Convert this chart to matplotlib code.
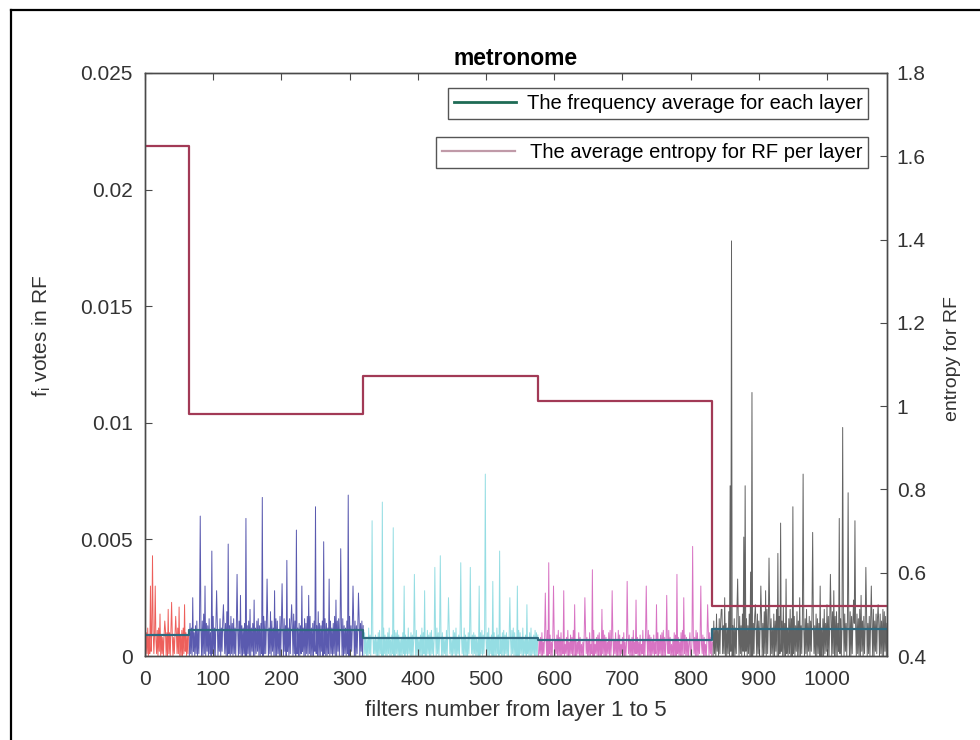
import numpy as np
import matplotlib
matplotlib.use('Agg')
import matplotlib.pyplot as plt
from matplotlib.lines import Line2D

plt.rcParams['font.family'] = ['Liberation Sans', 'DejaVu Sans']

# layer edges (filter number) and the per-layer averages
layer_edges = [0, 64, 320, 576, 832, 1088]
layer_colors = ['#e82a24', '#14148e', '#3ec2cc', '#c42aa4', '#101010']
layer_alpha = [0.75, 0.7, 0.55, 0.65, 0.65]
freq_avg = [0.00090, 0.00112, 0.00078, 0.00068, 0.00116]
entropy_avg = [1.625, 0.982, 1.072, 1.012, 0.520]

# votes per filter, one base-36 char per filter, units of 1e-4
layer1_votes = ("0a1c09182b0a1907" "1b0c2a0918091b0a" "0c1a0b2908190a1c" "1a090b0c182a091b")
layer2_votes = ("0e1c0g2a0d1f0b1h" "1c0f0i1b0e2d0g1a" "0d1h0c0f1e0b2g0c" "2f0b1e0j0c1d0h1e"
                "0g1c0e2b0f1i0d0c" "1e0h0d1f0k0c2e0b" "0c1f2g0d0e1b0h1f" "1d0e0c1j0f2c0e0g"
                "0f1b0h0e1c0g2d0e" "2c0g1e0d0i1f0b1c" "0e0d1f2c0g0e1h0d" "1h0c0e0f2b1d0j0e"
                "0d2f0c1g0e0c1e0f" "1c0e1h0d0f2g0c1e" "0g0d1c0f1e0h0d2c" "1e0f0d1c0g0e2f0d")
layer3_votes = ("0a18070c190a0b17" "19070a0b18060c19" "080a1c0709180b0a" "1b0907080a1c0918"
                "0c180a0907190b08" "17090c0a18080b19" "0a0b1807090c1a08" "190a08170b090c18"
                "070b1a0c08190a09" "180c09070a1b0819" "0a1908070c0a1b09" "1b070a0c0819090a"
                "080c1907180a0b09" "1a0809070b1c0a08" "090b0a180c07190a" "170a0c08190b0a09")
layer4_votes = ("07180a0619080b05" "1906080a07190b08" "0a071905180b0609" "180b0907061a0805"
                "06090b18070a0519" "0b0518090a07061b" "0908061a0b051907" "1a070b0905180a06"
                "050a1907080b0619" "180609051b070a08" "0b0908071906180a" "07190a0b0806051b"
                "1805070a090b1806" "0a0b0619080705a1" "0609180b0a071905" "190805070b0a1806")
layer5_votes = ("0f1c0i2b0g1e0k1d" "1h0e0c1j0f2i0d0g" "0c1k0f0h1d0i2e0j" "2g0d1i0f0l0e1h0c"
                "0i1f0d2h0e0j1g0k" "1e0j0g1c0i0f2k0d" "0h1d2f0l0e0i1c0g" "1k0g0e1h0d2j0f0i"
                "0d1i0c0g1k0e2h0f" "2j0f1d0i0g1e0m0c" "0g0k1e2f0h0d1i0j" "1f0h0j0e2i1g0d0k"
                "0i2e0g1d0j0h1f0e" "1d0i1g0k0e2f0h1c" "0j0e1h0g1d0k0f2i" "1g0d0i1f0e0j2h0e")

# the tall single-filter peaks: {filter number: votes in 1e-4}
layer1_peaks = {8: 30, 11: 43, 15: 30, 22: 18, 29: 15, 34: 20, 39: 23, 45: 17, 50: 21, 58: 22}
layer2_peaks = {70: 25, 81: 60, 88: 30, 98: 45, 105: 28, 115: 22, 122: 48, 135: 35, 140: 26,
                148: 59, 160: 24, 172: 68, 179: 33, 190: 28, 201: 31, 208: 41, 215: 22, 222: 54,
                230: 30, 240: 26, 250: 64, 262: 49, 270: 33, 280: 24, 287: 46, 298: 69, 305: 30,
                313: 27}
layer3_peaks = {333: 58, 348: 66, 364: 55, 380: 30, 395: 35, 410: 28, 425: 38, 433: 43, 445: 25,
                463: 40, 477: 38, 490: 30, 499: 78, 510: 32, 520: 45, 535: 25, 546: 30, 560: 22}
layer4_peaks = {587: 27, 592: 40, 599: 30, 614: 28, 630: 22, 645: 25, 656: 37, 670: 20, 685: 28,
                707: 32, 720: 24, 735: 30, 750: 22, 765: 26, 780: 35, 790: 25, 803: 47, 815: 30,
                825: 22}
layer5_peaks = {845: 20, 850: 25, 858: 73, 860: 178, 869: 33, 878: 51, 880: 73, 888: 36, 890: 113,
                895: 22, 903: 30, 910: 28, 915: 42, 928: 44, 932: 57, 940: 33, 950: 64, 960: 25,
                965: 78, 979: 53, 990: 30, 1000: 22, 1005: 35, 1010: 28, 1018: 59, 1023: 98,
                1031: 70, 1039: 24, 1041: 58, 1050: 26, 1057: 38, 1065: 30, 1075: 22, 1082: 20}

layer_votes = [layer1_votes, layer2_votes, layer3_votes, layer4_votes, layer5_votes]
layer_peaks = [layer1_peaks, layer2_peaks, layer3_peaks, layer4_peaks, layer5_peaks]

fig = plt.figure(figsize=(9.8, 7.4), dpi=100)
ax = fig.add_axes([145 / 980, 84 / 740, 742 / 980, 583 / 740])

# votes of every filter, one colour per layer
for i in range(5):
    start = layer_edges[i]
    vals = np.array([int(c, 36) for c in layer_votes[i]], dtype=float)
    for k, v in layer_peaks[i].items():
        vals[k - start - 1] = v
    x = np.arange(start + 1, start + len(vals) + 1)
    ax.plot(x, vals * 1e-4, color=layer_colors[i], lw=0.7, alpha=layer_alpha[i], zorder=1)

# average votes per layer
ax.step(layer_edges, freq_avg + [freq_avg[-1]], where='post', color='#2e6a80', lw=1.6, zorder=3)

ax.set_xlim(0, 1088)
ax.set_ylim(0, 0.025)
ax.set_xticks(range(0, 1001, 100))
ax.set_yticks([0, 0.005, 0.01, 0.015, 0.02, 0.025])
ax.set_yticklabels(['0', '0.005', '0.01', '0.015', '0.02', '0.025'])

# right axis: entropy
ax2 = ax.twinx()
ax2.step(layer_edges, entropy_avg + [entropy_avg[-1]], where='post', color='#a23a56', lw=1.6)
ax2.set_ylim(0.4, 1.8)
ax2.set_yticks([0.4, 0.6, 0.8, 1.0, 1.2, 1.4, 1.6, 1.8])
ax2.set_yticklabels(['0.4', '0.6', '0.8', '1', '1.2', '1.4', '1.6', '1.8'])

for a in (ax, ax2):
    for s in a.spines.values():
        s.set_color('#4a4a4a')
        s.set_linewidth(1.0)
ax.tick_params(axis='x', direction='in', top=True, length=5, labelsize=15,
               colors='#4a4a4a', labelcolor='#333333', pad=10)
ax.tick_params(axis='y', direction='in', right=False, length=5, labelsize=15,
               colors='#4a4a4a', labelcolor='#333333', pad=9)
ax2.tick_params(direction='in', length=5, labelsize=15, colors='#4a4a4a',
                labelcolor='#333333', pad=7)

ax.set_title('metronome', fontsize=16.5, fontweight='bold', pad=6)
ax.set_xlabel('filters number from layer 1 to 5', fontsize=16, color='#333333', labelpad=8)
ax.set_ylabel(r'f$_\mathregular{i}$ votes in RF', fontsize=15, color='#333333')
ax.yaxis.set_label_coords(-0.124, 0.55)
ax2.set_ylabel('entropy for RF', fontsize=14, color='#333333')
ax2.yaxis.set_label_coords(1.077, 0.51)

# two separate legend boxes
leg1 = ax.legend([Line2D([], [], color='#1e6b55', lw=2)], ['The frequency average for each layer'],
                 loc='upper right', bbox_to_anchor=(0.975, 0.974), borderaxespad=0,
                 fancybox=False, edgecolor='#555555', framealpha=1, fontsize=14.5,
                 handlelength=3.1, handletextpad=0.5, borderpad=0.3)
leg1.get_frame().set_linewidth(1.0)
leg2 = ax2.legend([Line2D([], [], color='#c09aa8', lw=1.6)], ['The average entropy for RF per layer'],
                  loc='upper right', bbox_to_anchor=(0.975, 0.890), borderaxespad=0,
                  fancybox=False, edgecolor='#555555', framealpha=1, fontsize=14.5,
                  handlelength=3.6, handletextpad=0.75, borderpad=0.3)
leg2.get_frame().set_linewidth(1.0)

# black frame around the figure (left and top)
fig.add_artist(Line2D([11 / 980, 11 / 980], [0, 1 - 10 / 740], transform=fig.transFigure,
                      color='black', lw=1.6))
fig.add_artist(Line2D([11 / 980, 1], [1 - 10 / 740, 1 - 10 / 740], transform=fig.transFigure,
                      color='black', lw=1.6))

fig.savefig('out.png', dpi=100)
